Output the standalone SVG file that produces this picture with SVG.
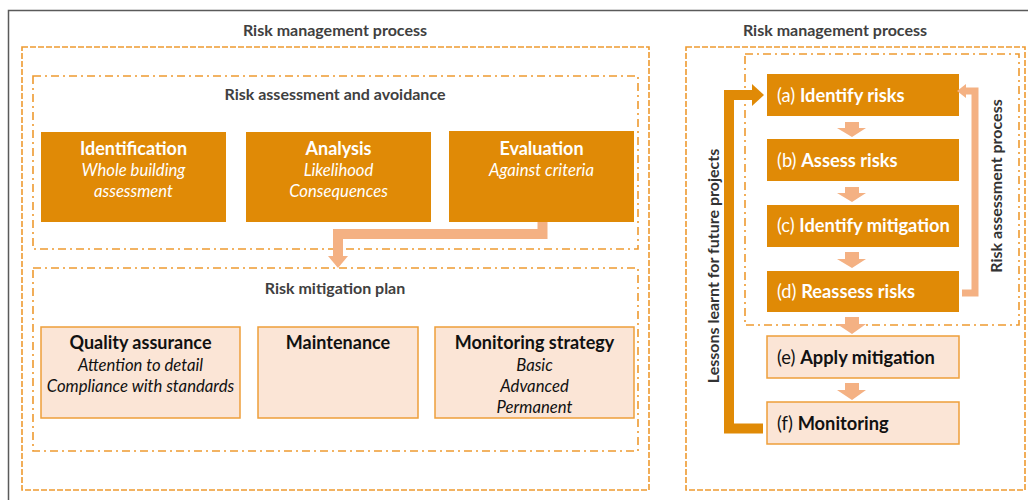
<svg xmlns="http://www.w3.org/2000/svg" width="1028" height="500" viewBox="0 0 1028 500">
<style>
.frame{fill:none;stroke:#5a5a5a;stroke-width:1.5}
.dash{fill:none;stroke:#EE9A30;stroke-width:1.6;stroke-dasharray:6 2}
.dashdot{fill:none;stroke:#EE9A30;stroke-width:1.6;stroke-dasharray:8 4 2 4}
.dark{fill:#E08A06}
.light{fill:#FBE5D6;stroke:#EE9E3A;stroke-width:1.5}
.title{font-family:Lato,"Liberation Sans",sans-serif;font-weight:bold;fill:#404040;font-size:16px;text-anchor:middle}
.h{font-family:Lato,"Liberation Sans",sans-serif;font-weight:bold;font-size:18px;text-anchor:middle}
.it{font-family:Lato,"Liberation Sans",sans-serif;font-style:italic;font-size:16.7px;text-anchor:middle}
.w{fill:#ffffff}
.k{fill:#111111}
.step{font-family:Lato,"Liberation Sans",sans-serif;font-size:18.3px}
.b{font-weight:bold}
.conn{fill:none;stroke-linejoin:miter}
</style>
<rect x="8.5" y="10.5" width="1030" height="500" class="frame"/>

<!-- Left panel -->
<g id="left-panel">
<text x="335" y="36" class="title">Risk management process</text>
<rect x="22" y="47" width="627" height="443" class="dash"/>
</g>
<g id="risk-assessment-group">
<rect x="33" y="76" width="605" height="173" class="dashdot"/>
<text x="335" y="100" class="title">Risk assessment and avoidance</text>
</g>
<g id="identification">
<rect x="41" y="132" width="185" height="90" class="dark"/>
<text x="133.5" y="155" class="h w">Identification</text>
<text x="133.5" y="176" class="it w">Whole building</text>
<text x="133.5" y="197" class="it w">assessment</text>
</g>
<g id="analysis">
<rect x="246" y="132" width="185" height="90" class="dark"/>
<text x="338.5" y="155" class="h w">Analysis</text>
<text x="338.5" y="176" class="it w">Likelihood</text>
<text x="338.5" y="197" class="it w">Consequences</text>
</g>
<g id="evaluation">
<rect x="449" y="131" width="185" height="91" class="dark"/>
<text x="541.5" y="155" class="h w">Evaluation</text>
<text x="541.5" y="176" class="it w">Against criteria</text>
</g>
<g id="risk-mitigation-group">
<rect x="33" y="268" width="605" height="183" class="dashdot"/>
<text x="335" y="294" class="title">Risk mitigation plan</text>
</g>
<g id="quality-assurance">
<rect x="41" y="327" width="199" height="91" class="light"/>
<text x="140.5" y="349" class="h k">Quality assurance</text>
<text x="140.5" y="371" class="it k">Attention to detail</text>
<text x="140.5" y="392" class="it k">Compliance with standards</text>
</g>
<g id="maintenance">
<rect x="258" y="327" width="160" height="91" class="light"/>
<text x="338" y="349" class="h k">Maintenance</text>
</g>
<g id="monitoring-strategy">
<rect x="435" y="327" width="199" height="91" class="light"/>
<text x="534.5" y="349" class="h k">Monitoring strategy</text>
<text x="534.5" y="371" class="it k">Basic</text>
<text x="534.5" y="392" class="it k">Advanced</text>
<text x="534.5" y="413" class="it k">Permanent</text>
</g>

<!-- Right panel -->
<g id="right-panel">
<text x="835" y="36" class="title">Risk management process</text>
<rect x="686" y="47" width="339" height="443" class="dash"/>
</g>
<g id="risk-assessment-process">
<rect x="745" y="54" width="274" height="271" class="dashdot"/>
<text transform="translate(1002,186) rotate(-90)" class="title" style="fill:#333">Risk assessment process</text>
</g>
<g id="step-a">
<rect x="767" y="74" width="192" height="42" class="dark"/>
<text x="777" y="102" class="step w">(a) <tspan class="b">Identify risks</tspan></text>
</g>
<g id="step-b">
<rect x="767" y="139" width="192" height="42" class="dark"/>
<text x="777" y="167" class="step w">(b) <tspan class="b">Assess risks</tspan></text>
</g>
<g id="step-c">
<rect x="767" y="205" width="192" height="42" class="dark"/>
<text x="777" y="232" class="step w">(c) <tspan class="b">Identify mitigation</tspan></text>
</g>
<g id="step-d">
<rect x="767" y="271" width="192" height="41" class="dark"/>
<text x="777" y="298" class="step w">(d) <tspan class="b">Reassess risks</tspan></text>
</g>
<g id="step-e">
<rect x="767" y="336" width="192" height="42" class="light"/>
<text x="777" y="364" class="step k">(e) <tspan class="b">Apply mitigation</tspan></text>
</g>
<g id="step-f">
<rect x="767" y="402" width="192" height="42" class="light"/>
<text x="777" y="430" class="step k">(f) <tspan class="b">Monitoring</tspan></text>
</g>
<g id="lessons-label">
<text transform="translate(719,266) rotate(-90)" class="title" style="fill:#333">Lessons learnt for future projects</text>
</g>

<!-- Connectors -->
<g id="connectors">
<path d="M542.5,222 V234 H338 V257" class="conn" stroke="#F4B183" stroke-width="10"/>
<polygon points="328,256 348,256 338,268" fill="#F4B183"/>

<path d="M845,122 H859 V128 H866 L852,137 L837,128 H845 Z" fill="#F4B183"/>
<path d="M845,187 H859 V193 H866 L852,202 L837,193 H845 Z" fill="#F4B183"/>
<path d="M845,252 H859 V259 H866 L852,268 L837,259 H845 Z" fill="#F4B183"/>
<path d="M845,317 H859 V324 H866 L852,334 L837,324 H845 Z" fill="#F4B183"/>
<path d="M845,383 H859 V390 H866 L852,400 L837,390 H845 Z" fill="#F4B183"/>

<path d="M962,293 H975 V91 H965" class="conn" stroke="#F4B183" stroke-width="7"/>
<polygon points="966,84 966,98 957,91" fill="#F4B183"/>

<path d="M763,428.5 H729 V95 H753" class="conn" stroke="#E08A06" stroke-width="10"/>
<polygon points="752,84 752,106 764,95" fill="#E08A06"/>
</g>
</svg>
